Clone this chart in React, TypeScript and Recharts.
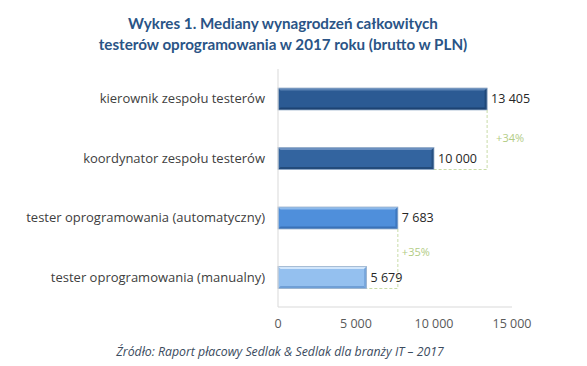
import React from "react";
import { Bar, BarChart, LabelList, XAxis, YAxis } from "recharts";

const categories = [
  "kierownik zespołu testerów",
  "koordynator zespołu testerów",
  "tester oprogramowania (automatyczny)",
  "tester oprogramowania (manualny)",
];
const salaries = [13405, 10000, 7683, 5679];
const xTicks = [0, 5000, 10000, 15000];
// growth notes: drawn from bar i down to bar i+1
const growthLabels = ["+34%", null, "+35%", null];

const barColors = [
  { top: "#5a82b4", mid: "#2b5a93", bot: "#1d4373" },
  { top: "#6a8fbf", mid: "#33649f", bot: "#234b7b" },
  { top: "#8dbaec", mid: "#4f8fdb", bot: "#3a72b8" },
  { top: "#d2e6fb", mid: "#94c0ef", bot: "#6f9fd6" },
];

const data = categories.map((name, i) => ({
  name,
  value: salaries[i],
  next: i + 1 < salaries.length ? salaries[i + 1] : null,
  growth: growthLabels[i],
}));

const FONT = "'Open Sans', 'DejaVu Sans', sans-serif";
const CHART_W = 587;
const CHART_H = 366;
const MARGIN = { top: 69, right: 75, bottom: 29, left: 0 };
const X_AXIS_H = 30;
const bandStep = (CHART_H - MARGIN.top - MARGIN.bottom - X_AXIS_H) / categories.length;

const fmt = (n: number) => String(n).replace(/\B(?=(\d{3})+(?!\d))/g, " ");

const BevelBar = (props: any) => {
  const { x, y, width, height, index, payload } = props;
  const c = barColors[index];
  const b = 2.5;
  const connector = payload.growth ? (() => {
    const x1 = x + width;
    const y1 = y + height;
    const y2 = y1 + bandStep;
    const x2 = x + (width * payload.next) / payload.value;
    return (
      <g>
        <polyline
          points={`${x1},${y1} ${x1},${y2} ${x2},${y2}`}
          fill="none"
          stroke="#c9dca8"
          strokeWidth={1}
          strokeDasharray="3 2"
        />
        <text
          x={x1 + (index === 0 ? 9 : 4)}
          y={y1 + bandStep / 2 - (index === 0 ? 1 : 6)}
          fontSize={11}
          fill="#b2cc85"
          fontFamily={FONT}
          dominantBaseline="middle"
        >
          {payload.growth}
        </text>
      </g>
    );
  })() : null;
  return (
    <g>
      <rect x={x} y={y} width={width} height={height} fill={c.mid} />
      <polygon
        points={`${x},${y} ${x + width},${y} ${x + width - b},${y + b} ${x + b},${y + b}`}
        fill={c.top}
      />
      <polygon
        points={`${x + width},${y} ${x + width},${y + height} ${x + width - b},${y + height - b} ${x + width - b},${y + b}`}
        fill={c.bot}
        opacity={0.8}
      />
      <polygon
        points={`${x},${y + height} ${x + width},${y + height} ${x + width - b},${y + height - b} ${x + b},${y + height - b}`}
        fill={c.bot}
      />
      <rect x={x} y={y} width={width} height={height} fill="none" stroke="#9fb3cc" strokeWidth={0.8} />
      {connector}
    </g>
  );
};

const App = () => {
  return (
    <div style={{ position: "absolute", left: 0, top: 0, width: CHART_W, height: CHART_H, background: "#fff", fontFamily: FONT }}>
      <div
        style={{
          position: "absolute",
          left: 0,
          top: 13,
          width: 566,
          textAlign: "center",
          fontFamily: "Lato, 'Open Sans', sans-serif",
          fontWeight: 700,
          fontSize: 15.2,
          lineHeight: "21px",
          color: "#2a5486",
        }}
      >
        Wykres 1. Mediany wynagrodzeń całkowitych
        <br />
        testerów oprogramowania w 2017 roku (brutto w PLN)
      </div>
      <BarChart width={CHART_W} height={CHART_H} data={data} layout="vertical" margin={MARGIN}>
        <XAxis
          type="number"
          domain={[0, 15000]}
          ticks={xTicks}
          tickFormatter={fmt}
          height={X_AXIS_H}
          axisLine={{ stroke: "#d9d9d9" }}
          tickLine={false}
          tickSize={0}
          tickMargin={12}
          tick={{ fontSize: 12.5, fill: "#595959", fontFamily: FONT }}
          interval={0}
        />
        <YAxis
          type="category"
          dataKey="name"
          width={278}
          axisLine={{ stroke: "#d9d9d9" }}
          tickLine={false}
          tickSize={0}
          tickMargin={13}
          tick={{ fontSize: 13, fill: "#404040", fontFamily: FONT }}
          interval={0}
        />
        <Bar dataKey="value" barSize={22} shape={BevelBar} isAnimationActive={false}>
          <LabelList
            dataKey="value"
            position="right"
            offset={4}
            formatter={(v: any) => fmt(Number(v))}
            style={{ fontSize: 12.5, fill: "#262626", fontFamily: FONT }}
          />
        </Bar>
      </BarChart>
      <div
        style={{
          position: "absolute",
          left: 0,
          top: 343,
          width: 560,
          textAlign: "center",
          fontStyle: "italic",
          fontSize: 12.3,
          color: "#3b4b5e",
        }}
      >
        Źródło: Raport płacowy Sedlak &amp; Sedlak dla branży IT – 2017
      </div>
    </div>
  );
};

export default App;
